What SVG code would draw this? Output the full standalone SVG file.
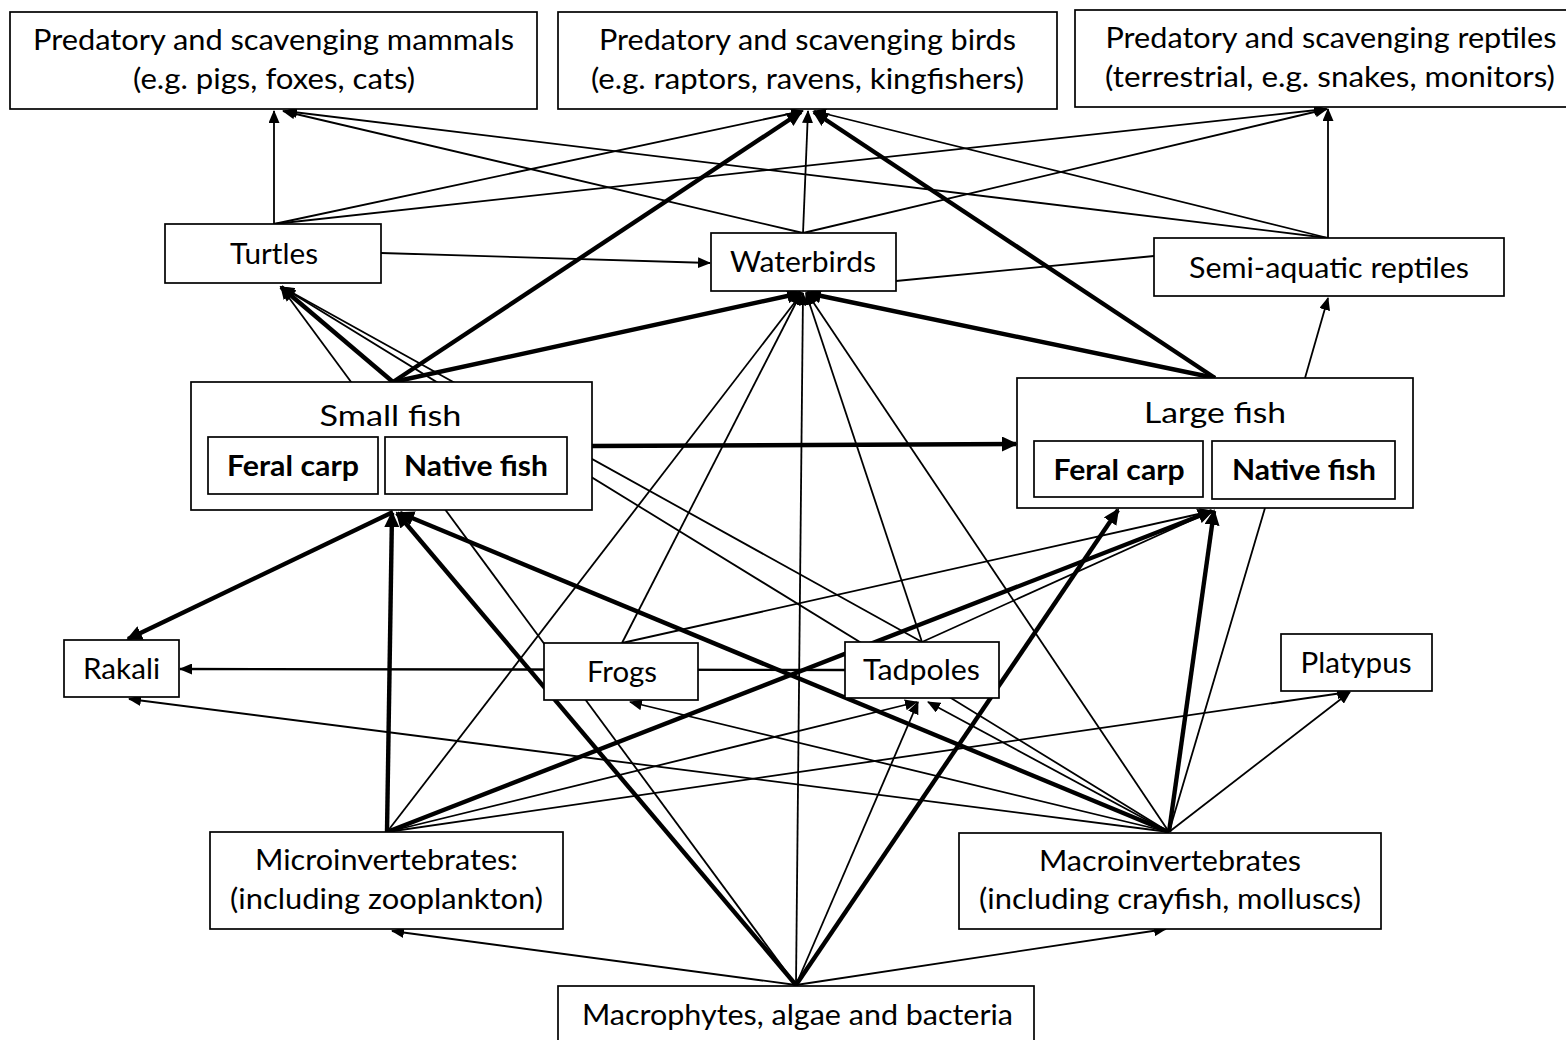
<svg xmlns="http://www.w3.org/2000/svg" width="1566" height="1040" viewBox="0 0 1566 1040">
<defs>
<style>
.box{fill:#fff;stroke:#000;stroke-width:1.7}
.t{font-family:Lato,"Open Sans","Liberation Sans",sans-serif;font-size:28.5px;fill:#000;text-anchor:middle}
.b{font-weight:bold}
.thin{stroke:#000;stroke-width:1.8;fill:none;marker-end:url(#ah)}
.plain{stroke:#000;stroke-width:1.8;fill:none}
.mid{stroke:#000;stroke-width:2.4;fill:none;marker-end:url(#ah)}
.thick{stroke:#000;stroke-width:4.4;fill:none;marker-end:url(#ahk)}
</style>
<marker id="ah" markerUnits="userSpaceOnUse" markerWidth="13" markerHeight="11" viewBox="0 0 13 11" refX="12" refY="5.5" orient="auto"><path d="M0,0 L13,5.5 L0,11 z" fill="#000"/></marker>
<marker id="ahk" markerUnits="userSpaceOnUse" markerWidth="16" markerHeight="15" viewBox="0 0 16 15" refX="14" refY="7.5" orient="auto"><path d="M0,0 L16,7.5 L0,15 z" fill="#000"/></marker>
</defs>
<rect width="1566" height="1040" fill="#fff"/>
<g id="connectors">
<path class="thin" d="M274,224 L274,111"/>
<path class="thin" d="M274,224 L803,111"/>
<path class="thin" d="M274,224 L1326,109"/>
<path class="thin" d="M381,253 L710,263"/>
<path class="thin" d="M803,233 L283,111"/>
<path class="thin" d="M803,233 L808,111"/>
<path class="thin" d="M803,233 L1327,109"/>
<path class="thin" d="M1328,238 L285,111"/>
<path class="thin" d="M1328,238 L814,111"/>
<path class="thin" d="M1328,238 L1328,109"/>
<path class="plain" d="M896,281 L1154,256"/>
<path class="thin" d="M1305,378 L1328,298"/>
<path class="thick" d="M393,382 L801,112"/>
<path class="thick" d="M393,382 L801,293"/>
<path class="thick" d="M393,382 L281,287"/>
<path class="thick" d="M592,446 L1016,444"/>
<path class="thick" d="M1215,378 L814,112"/>
<path class="thick" d="M1215,378 L807,293"/>
<path class="thick" d="M393,512 L128,639"/>
<path class="thick" d="M387,832 L392,513"/>
<path class="thick" d="M796,985 L397,513"/>
<path class="thick" d="M1169,832 L400,513"/>
<path class="thick" d="M387,832 L1212,511"/>
<path class="thick" d="M796,985 L1118,510"/>
<path class="thick" d="M1169,832 L1214,511"/>
<path class="thin" d="M796,985 L281,287"/>
<path class="thin" d="M387,832 L802,293"/>
<path class="thin" d="M387,832 L917,702"/>
<path class="thin" d="M387,832 L1349,692"/>
<path class="thin" d="M796,985 L392,931"/>
<path class="thin" d="M796,985 L1166,929"/>
<path class="thin" d="M796,985 L803,293"/>
<path class="thin" d="M796,985 L918,702"/>
<path class="thin" d="M922,642 L282,287"/>
<path class="thin" d="M1169,832 L282,287"/>
<path class="thin" d="M922,642 L806,293"/>
<path class="thin" d="M922,642 L1212,511"/>
<path class="thin" d="M622,643 L1212,511"/>
<path class="thin" d="M622,643 L801,293"/>
<path class="mid" d="M845,670 L180,669"/>
<path class="thin" d="M1169,832 L129,699"/>
<path class="thin" d="M1169,832 L630,702"/>
<path class="thin" d="M1169,832 L928,702"/>
<path class="thin" d="M1169,832 L807,293"/>
<path class="plain" d="M1169,832 L1265,508"/>
<path class="thin" d="M1169,832 L1350,692"/>
</g>
<g id="mammals"><rect class="box" x="10" y="12" width="527" height="97"/><text class="t" x="273.5" y="50" textLength="481" lengthAdjust="spacingAndGlyphs">Predatory and scavenging mammals</text><text class="t" x="274" y="89" textLength="282" lengthAdjust="spacingAndGlyphs">(e.g. pigs, foxes, cats)</text></g>
<g id="birds"><rect class="box" x="558" y="12" width="499" height="97"/><text class="t" x="807.5" y="50" textLength="417" lengthAdjust="spacingAndGlyphs">Predatory and scavenging birds</text><text class="t" x="807.5" y="89" textLength="433" lengthAdjust="spacingAndGlyphs">(e.g. raptors, ravens, kingfishers)</text></g>
<g id="reptiles"><rect class="box" x="1075" y="10" width="513" height="97"/><text class="t" x="1331" y="48" textLength="451" lengthAdjust="spacingAndGlyphs">Predatory and scavenging reptiles</text><text class="t" x="1330" y="87" textLength="450" lengthAdjust="spacingAndGlyphs">(terrestrial, e.g. snakes, monitors)</text></g>
<g id="turtles"><rect class="box" x="165" y="224" width="216" height="59"/><text class="t" x="274" y="264" textLength="88" lengthAdjust="spacingAndGlyphs">Turtles</text></g>
<g id="waterbirds"><rect class="box" x="711" y="233" width="185" height="58"/><text class="t" x="803" y="272" textLength="146" lengthAdjust="spacingAndGlyphs">Waterbirds</text></g>
<g id="semiaquatic"><rect class="box" x="1154" y="238" width="350" height="58"/><text class="t" x="1329" y="278" textLength="280" lengthAdjust="spacingAndGlyphs">Semi-aquatic reptiles</text></g>
<g id="smallfish"><rect class="box" x="191" y="382" width="401" height="128"/><text class="t" x="390.5" y="426" textLength="142" lengthAdjust="spacingAndGlyphs">Small fish</text>
<rect class="box" x="208" y="437" width="170" height="57"/><text class="t b" x="293" y="476" textLength="132" lengthAdjust="spacingAndGlyphs">Feral carp</text>
<rect class="box" x="385" y="437" width="182" height="57"/><text class="t b" x="476" y="476" textLength="144" lengthAdjust="spacingAndGlyphs">Native fish</text></g>
<g id="largefish"><rect class="box" x="1017" y="378" width="396" height="130"/><text class="t" x="1215" y="423" textLength="142" lengthAdjust="spacingAndGlyphs">Large fish</text>
<rect class="box" x="1034" y="441" width="169" height="56"/><text class="t b" x="1119" y="480" textLength="131" lengthAdjust="spacingAndGlyphs">Feral carp</text>
<rect class="box" x="1212" y="441" width="183" height="58"/><text class="t b" x="1304" y="480" textLength="144" lengthAdjust="spacingAndGlyphs">Native fish</text></g>
<g id="rakali"><rect class="box" x="64" y="640" width="115" height="57"/><text class="t" x="121.5" y="679" textLength="77" lengthAdjust="spacingAndGlyphs">Rakali</text></g>
<g id="frogs"><rect class="box" x="544" y="643" width="154" height="57"/><text class="t" x="622" y="682" textLength="70" lengthAdjust="spacingAndGlyphs">Frogs</text></g>
<g id="tadpoles"><rect class="box" x="845" y="642" width="154" height="56"/><text class="t" x="921.5" y="680" textLength="117" lengthAdjust="spacingAndGlyphs">Tadpoles</text></g>
<g id="platypus"><rect class="box" x="1281" y="634" width="151" height="57"/><text class="t" x="1356" y="673" textLength="111" lengthAdjust="spacingAndGlyphs">Platypus</text></g>
<g id="microinvertebrates"><rect class="box" x="210" y="832" width="353" height="97"/><text class="t" x="386.5" y="870" textLength="263" lengthAdjust="spacingAndGlyphs">Microinvertebrates:</text><text class="t" x="386.5" y="909" textLength="313" lengthAdjust="spacingAndGlyphs">(including zooplankton)</text></g>
<g id="macroinvertebrates"><rect class="box" x="959" y="833" width="422" height="96"/><text class="t" x="1170" y="871" textLength="262" lengthAdjust="spacingAndGlyphs">Macroinvertebrates</text><text class="t" x="1170" y="909" textLength="382" lengthAdjust="spacingAndGlyphs">(including crayfish, molluscs)</text></g>
<g id="macrophytes"><rect class="box" x="558" y="986" width="476" height="70"/><text class="t" x="797.5" y="1025" textLength="431" lengthAdjust="spacingAndGlyphs">Macrophytes, algae and bacteria</text></g>
</svg>
